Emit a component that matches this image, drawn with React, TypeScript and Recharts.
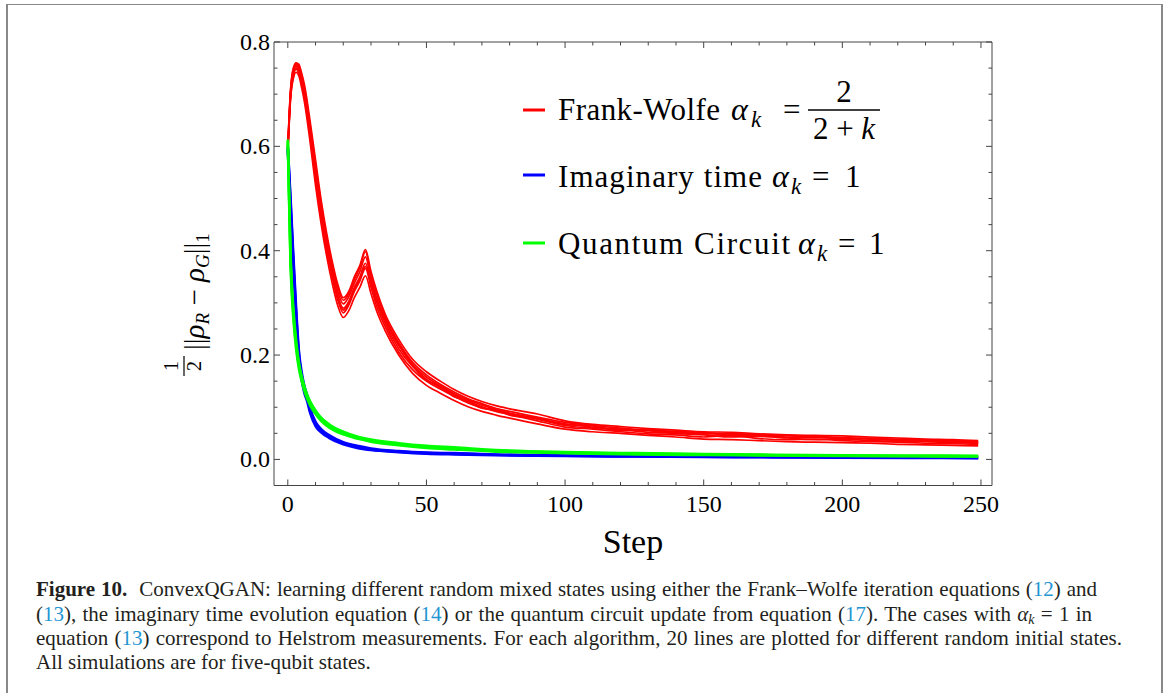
import React from "react";
import { LineChart, Line, XAxis, YAxis } from "recharts";

// step grid for the Frank-Wolfe runs (dense where the curve bends)
const fwSteps = [0, 1, 2, 3, 4, 5, 6, 8, 10, 12, 14, 16, 18, 20, 22, 24, 26, 28, 30, 32, 35, 40, 45, 50, 55, 60, 65, 70, 75, 80, 90, 100, 110, 120, 130, 140, 150, 160, 170, 180, 190, 200, 210, 220, 230, 240, 249];

const fw1 = [0.585, 0.69, 0.73, 0.742, 0.735, 0.712, 0.685, 0.61, 0.525, 0.452, 0.39, 0.338, 0.295, 0.272, 0.285, 0.31, 0.33, 0.352, 0.318, 0.285, 0.248, 0.2, 0.165, 0.142, 0.127, 0.113, 0.101, 0.092, 0.085, 0.079, 0.068, 0.058, 0.053, 0.05, 0.046, 0.043, 0.039, 0.038, 0.036, 0.034, 0.033, 0.032, 0.031, 0.029, 0.028, 0.027, 0.026];
const fw2 = [0.59, 0.695, 0.735, 0.748, 0.74, 0.72, 0.693, 0.62, 0.537, 0.465, 0.402, 0.35, 0.306, 0.281, 0.296, 0.322, 0.342, 0.366, 0.33, 0.294, 0.256, 0.206, 0.172, 0.15, 0.135, 0.121, 0.108, 0.099, 0.092, 0.086, 0.074, 0.062, 0.058, 0.053, 0.049, 0.047, 0.043, 0.046, 0.04, 0.038, 0.039, 0.036, 0.034, 0.033, 0.031, 0.03, 0.029];
const fw3 = [0.592, 0.7, 0.742, 0.753, 0.746, 0.726, 0.7, 0.628, 0.548, 0.473, 0.41, 0.358, 0.314, 0.29, 0.303, 0.33, 0.35, 0.376, 0.338, 0.302, 0.262, 0.212, 0.178, 0.154, 0.138, 0.124, 0.111, 0.101, 0.094, 0.088, 0.077, 0.065, 0.06, 0.057, 0.052, 0.05, 0.047, 0.043, 0.044, 0.041, 0.038, 0.04, 0.036, 0.035, 0.034, 0.032, 0.031];
const fw4 = [0.595, 0.703, 0.745, 0.756, 0.75, 0.73, 0.705, 0.635, 0.556, 0.482, 0.418, 0.366, 0.322, 0.298, 0.312, 0.338, 0.36, 0.388, 0.345, 0.31, 0.268, 0.218, 0.182, 0.158, 0.141, 0.126, 0.114, 0.104, 0.096, 0.089, 0.079, 0.068, 0.062, 0.058, 0.055, 0.05, 0.049, 0.05, 0.045, 0.043, 0.042, 0.041, 0.039, 0.037, 0.035, 0.034, 0.033];
const fw5 = [0.598, 0.707, 0.748, 0.758, 0.754, 0.735, 0.712, 0.642, 0.565, 0.49, 0.426, 0.373, 0.33, 0.305, 0.318, 0.345, 0.368, 0.398, 0.352, 0.318, 0.274, 0.224, 0.186, 0.162, 0.144, 0.129, 0.116, 0.107, 0.098, 0.092, 0.081, 0.071, 0.065, 0.06, 0.056, 0.054, 0.051, 0.048, 0.047, 0.046, 0.044, 0.042, 0.04, 0.039, 0.037, 0.036, 0.034];
const fw6 = [0.6, 0.71, 0.75, 0.76, 0.757, 0.74, 0.718, 0.65, 0.574, 0.498, 0.434, 0.38, 0.336, 0.31, 0.322, 0.35, 0.372, 0.402, 0.36, 0.324, 0.28, 0.23, 0.192, 0.168, 0.15, 0.134, 0.121, 0.111, 0.103, 0.097, 0.087, 0.074, 0.067, 0.063, 0.059, 0.056, 0.053, 0.052, 0.049, 0.047, 0.046, 0.045, 0.043, 0.041, 0.039, 0.038, 0.036];
const fw7 = [0.588, 0.698, 0.738, 0.75, 0.744, 0.722, 0.697, 0.624, 0.542, 0.47, 0.405, 0.354, 0.31, 0.286, 0.3, 0.326, 0.346, 0.37, 0.341, 0.306, 0.27, 0.222, 0.18, 0.152, 0.14, 0.12, 0.112, 0.098, 0.095, 0.085, 0.078, 0.067, 0.064, 0.055, 0.057, 0.052, 0.052, 0.045, 0.048, 0.042, 0.045, 0.038, 0.041, 0.036, 0.036, 0.033, 0.032];

// step grid shared by the imaginary-time and circuit runs
const fastSteps = [0, 1, 2, 3, 4, 5, 6, 7, 8, 10, 12, 15, 20, 25, 30, 40, 50, 60, 75, 100, 125, 150, 175, 200, 225, 249];

const imag1 = [0.592, 0.48, 0.37, 0.27, 0.192, 0.152, 0.127, 0.111, 0.09, 0.064, 0.052, 0.041, 0.029, 0.022, 0.018, 0.014, 0.011, 0.0095, 0.008, 0.0065, 0.0055, 0.0045, 0.004, 0.0035, 0.003, 0.0025];
const imag2 = [0.597, 0.49, 0.38, 0.28, 0.2, 0.16, 0.134, 0.117, 0.095, 0.068, 0.055, 0.043, 0.031, 0.024, 0.019, 0.015, 0.012, 0.011, 0.009, 0.007, 0.006, 0.005, 0.0045, 0.004, 0.0035, 0.003];
const imag3 = [0.6, 0.5, 0.39, 0.29, 0.208, 0.167, 0.14, 0.122, 0.1, 0.072, 0.058, 0.046, 0.033, 0.026, 0.021, 0.016, 0.013, 0.012, 0.0095, 0.0075, 0.0065, 0.0055, 0.005, 0.0045, 0.004, 0.0035];

const circ1 = [0.605, 0.37, 0.27, 0.212, 0.174, 0.15, 0.131, 0.116, 0.104, 0.087, 0.074, 0.061, 0.048, 0.04, 0.034, 0.027, 0.022, 0.019, 0.015, 0.012, 0.0095, 0.0085, 0.0075, 0.0065, 0.006, 0.0055];
const circ2 = [0.61, 0.38, 0.28, 0.22, 0.18, 0.155, 0.135, 0.12, 0.108, 0.09, 0.077, 0.064, 0.05, 0.042, 0.036, 0.029, 0.024, 0.021, 0.017, 0.013, 0.011, 0.0095, 0.008, 0.007, 0.0065, 0.006];
const circ3 = [0.613, 0.39, 0.29, 0.228, 0.186, 0.16, 0.14, 0.124, 0.112, 0.094, 0.08, 0.067, 0.053, 0.044, 0.038, 0.031, 0.026, 0.023, 0.018, 0.014, 0.012, 0.0105, 0.009, 0.008, 0.0075, 0.007];

const xMajor = [0, 50, 100, 150, 200, 250];
const xTicks = [0, 10, 20, 30, 40, 50, 60, 70, 80, 90, 100, 110, 120, 130, 140, 150, 160, 170, 180, 190, 200, 210, 220, 230, 240, 250];
const yMajor = ["0.0", "0.2", "0.4", "0.6", "0.8"];
const yTicks = [0, 0.05, 0.1, 0.15, 0.2, 0.25, 0.3, 0.35, 0.4, 0.45, 0.5, 0.55, 0.6, 0.65, 0.7, 0.75, 0.8];

const RED = "#ff0000";
const BLUE = "#0000ff";
const GREEN = "#00ff00";
const FRAME = "#444";
const FONT = "Liberation Serif";
const BLUE_REF = "#1f95d2";

const pts = (steps: number[], vals: number[]) => steps.map((s, i) => ({ step: s, v: vals[i] }));

const redRuns = [fw1, fw2, fw3, fw4, fw5, fw6, fw7].map((r) => pts(fwSteps, r));
const blueRuns = [imag1, imag2, imag3].map((r) => pts(fastSteps, r));
const greenRuns = [circ1, circ2, circ3].map((r) => pts(fastSteps, r));

const isYMajor = (v: number) => yMajor.includes(v.toFixed(1)) && Math.abs(v * 10 - Math.round(v * 10)) < 1e-6;

// frame ticks point inward, labels only on bottom/left
const BottomTick = ({ x, y, payload }: any) => {
  const major = xMajor.includes(payload.value);
  return (
    <g>
      <line x1={x} y1={y} x2={x} y2={y - (major ? 6 : 3.5)} stroke={FRAME} />
      {major && (
        <text x={x} y={y + 26} textAnchor="middle" fontSize={24} fontFamily={FONT} fill="#000">
          {payload.value}
        </text>
      )}
    </g>
  );
};

const TopTick = ({ x, y, payload }: any) => {
  const major = xMajor.includes(payload.value);
  return <line x1={x} y1={y} x2={x} y2={y + (major ? 6 : 3.5)} stroke={FRAME} />;
};

const LeftTick = ({ x, y, payload }: any) => {
  const major = isYMajor(payload.value);
  return (
    <g>
      <line x1={x} y1={y} x2={x + (major ? 6 : 3.5)} y2={y} stroke={FRAME} />
      {major && (
        <text x={x - 4} y={y + 8} textAnchor="end" fontSize={24} fontFamily={FONT} fill="#000">
          {payload.value.toFixed(1)}
        </text>
      )}
    </g>
  );
};

const RightTick = ({ x, y, payload }: any) => {
  const major = isYMajor(payload.value);
  return <line x1={x} y1={y} x2={x - (major ? 6 : 3.5)} y2={y} stroke={FRAME} />;
};

const T = (props: any) => <text fontFamily={FONT} fill="#000" {...props} />;

const ref = (n: string) => <span style={{ color: BLUE_REF }}>{n}</span>;

const capLine = (top: number, width?: number): React.CSSProperties => ({
  position: "absolute",
  left: 36,
  top,
  width,
  whiteSpace: "nowrap",
  textAlign: width ? "justify" : "left",
  textAlignLast: width ? "justify" : "left",
  lineHeight: "20px",
});

function Caption() {
  return (
    <div style={{ position: "absolute", left: 0, top: 0, fontFamily: FONT, fontSize: 21, color: "#231f20" }}>
      <div style={capLine(579, 1061)}>
        <b>Figure 10.</b>&nbsp; ConvexQGAN: learning different random mixed states using either the Frank–Wolfe iteration equations ({ref("12")}) and
      </div>
      <div style={capLine(604, 1056)}>
        ({ref("13")}), the imaginary time evolution equation ({ref("14")}) or the quantum circuit update from equation ({ref("17")}). The cases with <i>α</i>
        <i style={{ fontSize: 14, verticalAlign: -3 }}>k</i> = 1 in
      </div>
      <div style={capLine(628, 1086)}>
        equation ({ref("13")}) correspond to Helstrom measurements. For each algorithm, 20 lines are plotted for different random initial states.
      </div>
      <div style={capLine(652)}>All simulations are for five-qubit states.</div>
      <div style={{ position: "absolute", left: 560, top: 525, width: 146, textAlign: "center", fontSize: 34, lineHeight: "34px", color: "#000" }}>
        Step
      </div>
    </div>
  );
}

function Overlay() {
  return (
    <svg width={1165} height={693} style={{ position: "absolute", left: 0, top: 0, pointerEvents: "none" }}>
      {/* figure box */}
      <line x1={7} y1={4.5} x2={1162} y2={4.5} stroke="#888" strokeWidth={1} />
      <line x1={7} y1={4} x2={7} y2={693} stroke="#888" strokeWidth={2} />
      <line x1={1162} y1={4} x2={1162} y2={693} stroke="#888" strokeWidth={2} />

      {/* y axis label, rotated */}
      <g transform="translate(204, 377) rotate(-90)">
        <T x={11} y={-26} fontSize={20} textAnchor="middle">1</T>
        <line x1={1} y1={-20} x2={21} y2={-20} stroke="#000" strokeWidth={1.2} />
        <T x={11} y={-3} fontSize={20} textAnchor="middle">2</T>
        <T x={27} y={0} fontSize={29}>
          ||<tspan fontStyle="italic">ρ</tspan>
          <tspan fontSize={19} fontStyle="italic" dy={5}>R</tspan>
          <tspan dy={-5}> − </tspan>
          <tspan fontStyle="italic">ρ</tspan>
          <tspan fontSize={19} fontStyle="italic" dy={5}>G</tspan>
          <tspan dy={-5}>||</tspan>
          <tspan fontSize={19} dy={5}>1</tspan>
        </T>
      </g>

      {/* legend */}
      <line x1={523} y1={110} x2={545} y2={110} stroke={RED} strokeWidth={3} />
      <T x={558} y={120} fontSize={31} textLength={162}>Frank-Wolfe</T>
      <T x={731} y={120} fontSize={32} fontStyle="italic">α</T>
      <T x={751} y={127} fontSize={23} fontStyle="italic">k</T>
      <T x={783} y={120} fontSize={31}>=</T>
      <T x={844} y={102} fontSize={31} textAnchor="middle">2</T>
      <line x1={808} y1={110} x2={880} y2={110} stroke="#000" strokeWidth={1.3} />
      <T x={844} y={139} fontSize={31} textAnchor="middle">
        2 + <tspan fontStyle="italic">k</tspan>
      </T>

      <line x1={523} y1={175} x2={545} y2={175} stroke={BLUE} strokeWidth={3} />
      <T x={558} y={187} fontSize={31} textLength={204}>Imaginary time</T>
      <T x={772} y={187} fontSize={32} fontStyle="italic">α</T>
      <T x={791} y={194} fontSize={23} fontStyle="italic">k</T>
      <T x={812} y={187} fontSize={31}>=</T>
      <T x={845} y={187} fontSize={31}>1</T>

      <line x1={523} y1={243} x2={545} y2={243} stroke={GREEN} strokeWidth={3} />
      <T x={558} y={254} fontSize={31} textLength={232}>Quantum Circuit</T>
      <T x={798} y={254} fontSize={32} fontStyle="italic">α</T>
      <T x={817} y={261} fontSize={23} fontStyle="italic">k</T>
      <T x={838} y={254} fontSize={31}>=</T>
      <T x={869} y={254} fontSize={31}>1</T>
    </svg>
  );
}

export default function App() {
  return (
    <div style={{ position: "absolute", left: 0, top: 0, width: 1165, height: 693, background: "#fff", fontFamily: FONT }}>
      <Caption />
      <LineChart width={1165} height={560} margin={{ top: 0, right: 0, bottom: 0, left: 0 }}>
        <XAxis
          dataKey="step"
          type="number"
          domain={[-4.98, 253.98]}
          allowDataOverflow
          ticks={xTicks}
          interval={0}
          height={74.5}
          tickSize={0}
          tickMargin={0}
          stroke={FRAME}
          tick={BottomTick}
        />
        <XAxis
          xAxisId="top"
          orientation="top"
          dataKey="step"
          type="number"
          domain={[-4.98, 253.98]}
          allowDataOverflow
          ticks={xTicks}
          interval={0}
          height={42}
          tickSize={0}
          tickMargin={0}
          stroke={FRAME}
          tick={TopTick}
        />
        <YAxis
          dataKey="v"
          type="number"
          domain={[-0.05, 0.8]}
          allowDataOverflow
          ticks={yTicks}
          interval={0}
          width={274}
          tickSize={0}
          tickMargin={0}
          stroke={FRAME}
          tick={LeftTick}
        />
        <YAxis
          yAxisId="right"
          orientation="right"
          dataKey="v"
          type="number"
          domain={[-0.05, 0.8]}
          allowDataOverflow
          ticks={yTicks}
          interval={0}
          width={173}
          tickSize={0}
          tickMargin={0}
          stroke={FRAME}
          tick={RightTick}
        />
        {redRuns.map((d, i) => (
          <Line key={`fw${i}`} data={d} dataKey="v" type="monotone" stroke={RED} strokeWidth={1.7} dot={false} isAnimationActive={false} />
        ))}
        {blueRuns.map((d, i) => (
          <Line key={`im${i}`} data={d} dataKey="v" type="monotone" stroke={BLUE} strokeWidth={2.6} dot={false} isAnimationActive={false} />
        ))}
        {greenRuns.map((d, i) => (
          <Line key={`qc${i}`} data={d} dataKey="v" type="monotone" stroke={GREEN} strokeWidth={2.6} dot={false} isAnimationActive={false} />
        ))}
      </LineChart>
      <Overlay />
    </div>
  );
}
